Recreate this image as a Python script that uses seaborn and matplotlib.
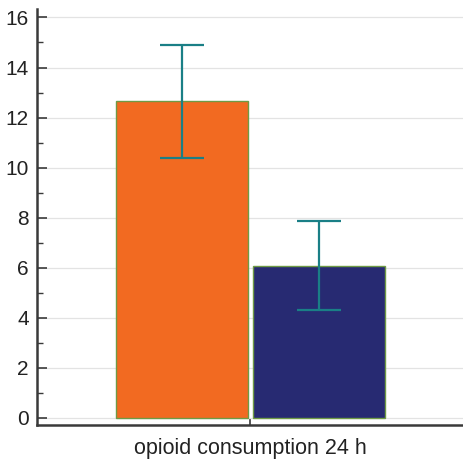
import matplotlib
matplotlib.use("Agg")
import matplotlib.pyplot as plt
import seaborn as sns
import pandas as pd
import numpy as np
from matplotlib.ticker import MultipleLocator

categories = ["opioid consumption 24 h"]
groups = ["Group 1", "Group 2"]
means = [12.65, 6.08]
err_lower = [10.4, 4.32]
err_upper = [14.9, 7.85]
colors = ["#f26a21", "#272a72"]

df = pd.DataFrame({
    "measure": [categories[0]] * len(groups),
    "group": groups,
    "value": means,
})

sns.set_style("ticks")
plt.rcParams["font.family"] = ["Liberation Sans", "DejaVu Sans"]

fig = plt.figure(figsize=(4.64, 4.61), dpi=100)
ax = fig.add_axes([0.0797, 0.078, 0.9203, 0.902])

sns.barplot(data=df, x="measure", y="value", hue="group", palette=colors,
            saturation=1, width=0.64, gap=0.035, errorbar=None,
            edgecolor="#6f9a45", linewidth=1.0, legend=False, ax=ax, zorder=2)

# error bars at bar centres
bars = [p for p in ax.patches]
bars.sort(key=lambda p: p.get_x())
xs = [p.get_x() + p.get_width() / 2 for p in bars]
m = np.array(means)
yerr = np.array([m - np.array(err_lower), np.array(err_upper) - m])
ax.errorbar(xs, m, yerr=yerr, fmt="none", ecolor="#1a7f86", elinewidth=1.6,
            capsize=16, capthick=1.6, zorder=3)

ax.set_xlim(-0.5, 0.5)
ax.set_ylim(-0.29, 16.33)
ax.yaxis.set_major_locator(MultipleLocator(2))
ax.yaxis.set_minor_locator(MultipleLocator(1))
ax.grid(axis="y", which="major", color="#e3e3e3", linewidth=0.9, zorder=0)
ax.set_axisbelow(True)

for s in ["top", "right"]:
    ax.spines[s].set_visible(False)
for s in ["left", "bottom"]:
    ax.spines[s].set_color("#3a3a3a")
    ax.spines[s].set_linewidth(1.8)

ax.tick_params(axis="y", which="major", direction="in", length=7, width=1.2,
               color="#3a3a3a", labelsize=15, pad=6, labelcolor="#222222",
               left=True)
ax.tick_params(axis="y", which="minor", direction="in", length=4, width=1.0,
               color="#3a3a3a", left=True)
ax.tick_params(axis="x", which="major", direction="in", length=5, width=1.2,
               color="#3a3a3a", labelsize=15.5, pad=9, labelcolor="#222222",
               bottom=True)
ax.set_xlabel("")
ax.set_ylabel("")

fig.savefig("out.png", dpi=100)
